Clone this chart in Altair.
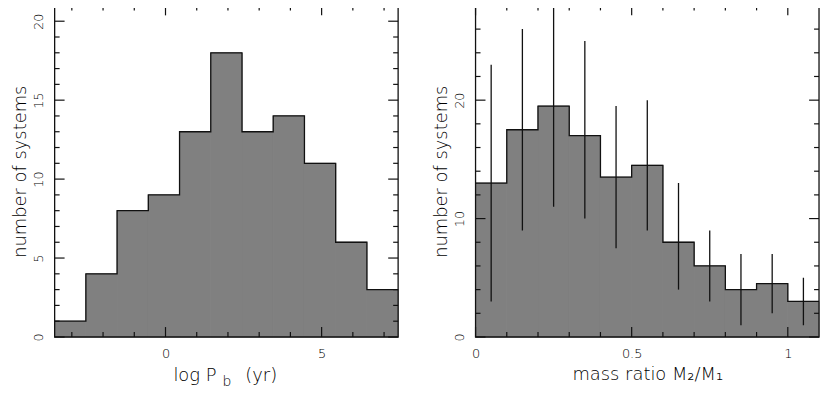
import altair as alt
import pandas as pd

# ---------------- data ----------------
# left panel: histogram of log orbital period
LP_EDGES = [-3.55, -2.55, -1.55, -0.55, 0.45, 1.45, 2.45, 3.45, 4.45, 5.45, 6.45, 7.45]
LP_COUNTS = [1, 4, 8, 9, 13, 18, 13, 14, 11, 6, 3]
LP_XDOMAIN = [-3.55, 7.45]
LP_YDOMAIN = [0, 21]
LP_XLABELS = [0, 5]
LP_YLABELS = [0, 5, 10, 15, 20]
LP_MINOR_X = [-3, -2, -1, 1, 2, 3, 4, 6, 7]
LP_MINOR_Y = [1, 2, 3, 4, 6, 7, 8, 9, 11, 12, 13, 14, 16, 17, 18, 19]

# right panel: histogram of mass ratio with error bars
Q_EDGES = [0.0, 0.1, 0.2, 0.3, 0.4, 0.5, 0.6, 0.7, 0.8, 0.9, 1.0, 1.1]
Q_CENTERS = [0.05, 0.15, 0.25, 0.35, 0.45, 0.55, 0.65, 0.75, 0.85, 0.95, 1.05]
Q_COUNTS = [13, 17.5, 19.5, 17, 13.5, 14.5, 8, 6, 4, 4.5, 3]
Q_ERR_LO = [3, 9, 11, 10, 7.5, 9, 4, 3, 1, 2, 1]
Q_ERR_HI = [23, 26, 28, 25, 19.5, 20, 13, 9, 7, 7, 5]
Q_XDOMAIN = [0, 1.1]
Q_YDOMAIN = [0, 28]
Q_XLABELS = [0, 0.5, 1]
Q_YLABELS = [0, 10, 20]
Q_MINOR_X = [0.1, 0.2, 0.3, 0.4, 0.6, 0.7, 0.8, 0.9]
Q_MINOR_Y = [2, 4, 6, 8, 12, 14, 16, 18, 22, 24, 26]

YTITLE = "number of systems"
Q_XTITLE = "mass ratio M\u2082/M\u2081"

# ---------------- style ----------------
W, H = 346, 334
FONT = "DejaVu Sans"
WEIGHT = 200
FILL = "#808080"
INK = "#111111"
MAJOR_LEN, MINOR_LEN = 10, 5


def panel(edges, counts, xdom, ydom, xlabels, ylabels, minor_x, minor_y, xtitle, yformat, xformat):
    xs = alt.Scale(domain=xdom, nice=False, zero=False)
    ys = alt.Scale(domain=ydom, nice=False, zero=False)
    xax = alt.Axis(values=xlabels, title=xtitle, format=xformat, labelFlush=False, labelOverlap=False,
                   labelPadding=11, titlePadding=5)
    yax = alt.Axis(values=ylabels, title=YTITLE, format=yformat, labelAngle=-90, labelAlign="center",
                   labelBaseline="bottom", labelFlush=False, labelOverlap=False, labelPadding=9,
                   titlePadding=3)

    hist = pd.DataFrame({"lo": edges[:-1], "hi": edges[1:], "count": counts})
    step = pd.DataFrame({"x": edges, "y": counts + [counts[-1]]})

    bars = alt.Chart(hist).mark_rect(fill=FILL, stroke=FILL, strokeWidth=1).encode(
        x=alt.X("lo:Q", scale=xs, axis=xax), x2="hi:Q",
        y=alt.Y("count:Q", scale=ys, axis=yax), y2=alt.datum(0))
    outline = alt.Chart(step).mark_line(interpolate="step-after", color=INK, strokeWidth=1.3).encode(
        x=alt.X("x:Q", scale=xs, axis=xax), y=alt.Y("y:Q", scale=ys, axis=yax))

    layers = [bars, outline]

    def xticks(vals, L):
        d = pd.DataFrame({"v": vals})
        b = alt.Chart(d).mark_rule(color=INK, strokeWidth=1.2).encode(
            x=alt.X("v:Q", scale=xs, axis=xax), y=alt.value(H), y2=alt.value(H - L))
        t = alt.Chart(d).mark_rule(color=INK, strokeWidth=1.2).encode(
            x=alt.X("v:Q", scale=xs, axis=xax), y=alt.value(0), y2=alt.value(L))
        return [b, t]

    def yticks(vals, L):
        d = pd.DataFrame({"v": vals})
        l = alt.Chart(d).mark_rule(color=INK, strokeWidth=1.2).encode(
            y=alt.Y("v:Q", scale=ys, axis=yax), x=alt.value(0), x2=alt.value(L))
        r = alt.Chart(d).mark_rule(color=INK, strokeWidth=1.2).encode(
            y=alt.Y("v:Q", scale=ys, axis=yax), x=alt.value(W), x2=alt.value(W - L))
        return [l, r]

    layers += xticks(xlabels, MAJOR_LEN) + xticks(minor_x, MINOR_LEN)
    layers += yticks(ylabels, MAJOR_LEN) + yticks(minor_y, MINOR_LEN)

    frame = alt.Chart(pd.DataFrame({"a": [0]})).mark_rect(fill=None, stroke=INK, strokeWidth=1.3).encode(
        x=alt.value(0), x2=alt.value(W), y=alt.value(0), y2=alt.value(H))
    layers.append(frame)
    return layers, xs, ys, xax, yax


# left panel
l_layers, lxs, lys, lxax, lyax = panel(LP_EDGES, LP_COUNTS, LP_XDOMAIN, LP_YDOMAIN, LP_XLABELS, LP_YLABELS,
                                       LP_MINOR_X, LP_MINOR_Y, None, "d", "d")
one = pd.DataFrame({"a": [0]})
txt = dict(font=FONT, fontWeight=WEIGHT, color="#000000", baseline="alphabetic")
l_layers.append(alt.Chart(one).mark_text(align="right", fontSize=18, **txt).encode(
    x=alt.value(163), y=alt.value(H + 44), text=alt.value("log P")))
l_layers.append(alt.Chart(one).mark_text(align="left", fontSize=14, **txt).encode(
    x=alt.value(169), y=alt.value(H + 49), text=alt.value("b")))
l_layers.append(alt.Chart(one).mark_text(align="left", fontSize=18, **txt).encode(
    x=alt.value(192), y=alt.value(H + 44), text=alt.value("(yr)")))
left = alt.layer(*l_layers).properties(width=W, height=H)

# right panel
r_layers, rxs, rys, rxax, ryax = panel(Q_EDGES, Q_COUNTS, Q_XDOMAIN, Q_YDOMAIN, Q_XLABELS, Q_YLABELS,
                                       Q_MINOR_X, Q_MINOR_Y, Q_XTITLE, "d", "g")
err = pd.DataFrame({"c": Q_CENTERS, "lo": Q_ERR_LO, "hi": Q_ERR_HI})
errbars = alt.Chart(err).mark_rule(color=INK, strokeWidth=1.3, clip=True).encode(
    x=alt.X("c:Q", scale=rxs, axis=rxax), y=alt.Y("lo:Q", scale=rys, axis=ryax), y2="hi:Q")
r_layers.insert(2, errbars)
right = alt.layer(*r_layers).properties(width=W, height=H)

PAD = {"left": 3, "top": -5, "right": 0, "bottom": 0}
chart = alt.hconcat(left, right, spacing=32, padding=PAD).configure_view(
    stroke=None
).configure_axis(
    domain=False, ticks=False, grid=False,
    labelFont=FONT, labelFontSize=13, labelColor="#000000", labelFontWeight=WEIGHT,
    titleFont=FONT, titleFontSize=18, titleFontWeight=WEIGHT, titleColor="#000000",
)

chart.save("out.html", embed_options={"renderer": "svg", "actions": False})
